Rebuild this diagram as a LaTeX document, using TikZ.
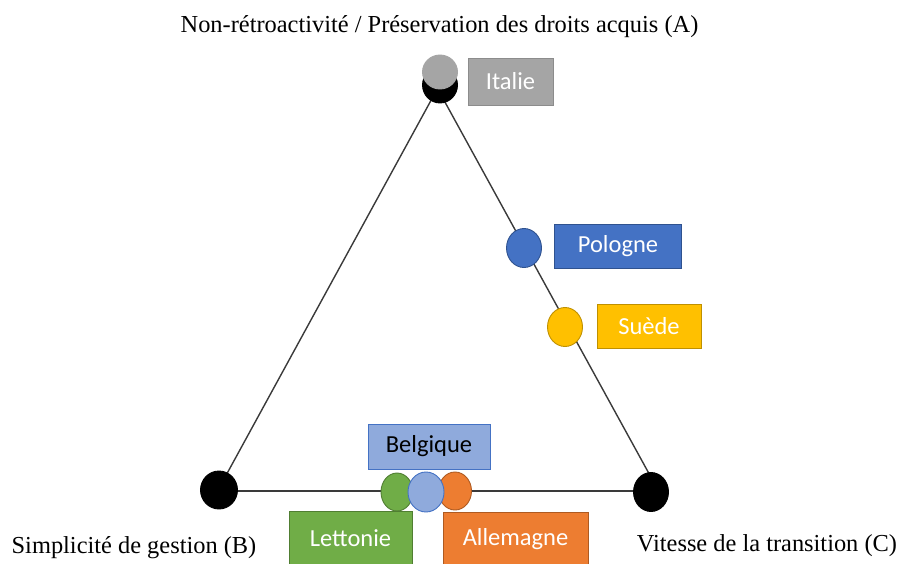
\documentclass[tikz,border=0pt]{standalone}
\usepackage{fontspec}
\setmainfont{Liberation Serif}
\newfontfamily\calibri{Carlito}
\usetikzlibrary{shapes.geometric}
\definecolor{grayF}{HTML}{A5A5A5}\definecolor{grayD}{HTML}{8C8C8C}
\definecolor{blueF}{HTML}{4472C4}\definecolor{blueD}{HTML}{2F528F}
\definecolor{goldF}{HTML}{FFC000}\definecolor{goldD}{HTML}{BF9000}
\definecolor{greenF}{HTML}{70AD47}\definecolor{greenD}{HTML}{507E32}
\definecolor{orangeF}{HTML}{ED7D31}\definecolor{orangeD}{HTML}{AE5A21}
\definecolor{lblueF}{HTML}{8FAADC}
\definecolor{lineC}{HTML}{3A3A3A}
\tikzset{
  edge/.style={draw=lineC, line width=1.4pt},
  dot/.style={ellipse, inner sep=0pt, line width=0.9pt},
  lbl/.style={font=\fontsize{24.4}{27}\selectfont, inner sep=0pt},
  tag/.style={rectangle, inner sep=0pt, line width=0.9pt, font=\calibri\fontsize{24.5}{27}\selectfont, text=white},
}
\begin{document}
\begin{tikzpicture}[x=1pt,y=-1pt]
\useasboundingbox (0,0) rectangle (901,564);
% triangle vertices
\coordinate (A) at (437.5,88.5);
\coordinate (B) at (218,490);
\coordinate (C) at (658,490);
\coordinate (BL) at (219,491);
\coordinate (CL) at (651,491);
\draw[edge] (A) -- (B);
\draw[edge] (A) -- (C);
\draw[edge] (BL) -- (CL);
% vertex dots
\node[dot, fill=black, draw=black, minimum width=35pt, minimum height=36pt] (nA) at (440,85) {};
\node[dot, fill=grayF, draw=grayF, minimum width=35pt, minimum height=34pt] (nIt) at (440,72) {};
\node[dot, fill=black, draw=black, minimum width=37pt, minimum height=38pt] (nB) at (219,490) {};
\node[dot, fill=black, draw=black, minimum width=35pt, minimum height=39pt] (nC) at (651,492) {};
% country dots
\node[dot, fill=blueF, draw=blueD, minimum width=35pt, minimum height=39pt] (nPl) at (524,248) {};
\node[dot, fill=goldF, draw=goldD, minimum width=35pt, minimum height=39pt] (nSe) at (565,327) {};
\node[dot, fill=greenF, draw=greenD, minimum width=32pt, minimum height=38pt] (nLv) at (397,492) {};
\node[dot, fill=orangeF, draw=orangeD, minimum width=33pt, minimum height=38pt] (nDe) at (455,491) {};
\node[dot, fill=lblueF, draw=blueF, minimum width=36pt, minimum height=40pt] (nBe) at (426,492) {};
% tags
\node[tag, fill=grayF, draw=grayD, minimum width=85pt, minimum height=47pt] (tIt) at (510.5,81.5) {Italie};
\node[tag, fill=blueF, draw=blueD, minimum width=127pt, minimum height=44pt] (tPl) at (618,246) {Pologne};
\node[tag, fill=goldF, draw=goldD, minimum width=104pt, minimum height=44pt] (tSe) at (649,326) {Suède};
\node[tag, fill=lblueF, draw=blueF, text=black, minimum width=122pt, minimum height=45pt] (tBe) at (429,446.5) {Belgique};
\node[tag, fill=greenF, draw=greenD, minimum width=123pt, minimum height=54pt] (tLv) at (350.5,538) {Lettonie};
\node[tag, fill=orangeF, draw=orangeD, minimum width=145pt, minimum height=54pt] (tDe) at (515.5,539) {Allemagne};
% axis labels
\node[lbl] (lA) at (439.5,27) {Non-rétroactivité / Préservation des droits acquis (A)};
\node[lbl] (lB) at (134,548) {Simplicité de gestion (B)};
\node[lbl] (lC) at (767,545.5) {Vitesse de la transition (C)};
\end{tikzpicture}
\end{document}
